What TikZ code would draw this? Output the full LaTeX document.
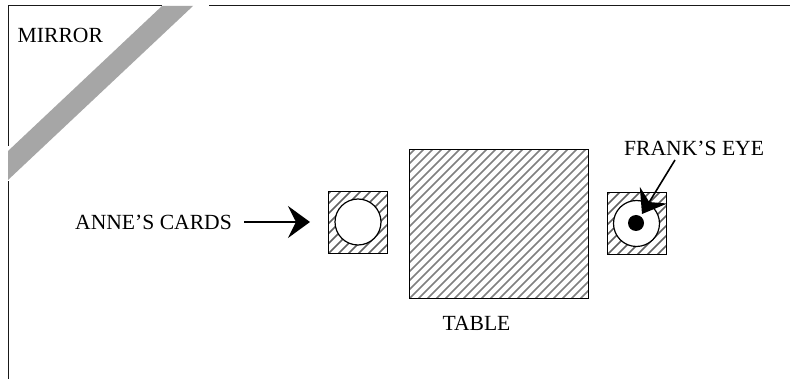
\documentclass[tikz,border=0pt]{standalone}
\usepackage{fontspec}
\setmainfont{Liberation Serif}
\usetikzlibrary{arrows.meta}
\tikzset{
  x=1pt,y=-1pt,
  lbl/.style={inner sep=0pt,font=\fontsize{21.6}{24}\selectfont,text=black},
  frame/.style={draw=black!90,line width=1.3pt},
  boxline/.style={draw=black,line width=1.5pt},
  hatchline/.style={draw=black!50,line width=1.5pt},
  smallhatch/.style={draw=black!62,line width=1.6pt},
  hole/.style={draw=black,fill=white,line width=1.2pt},
  bigarrow/.style={draw=black,line width=1.6pt,-{Stealth[length=22pt,width=32pt,inset=8pt]}}
}
\newcommand{\hatchbox}[6]{%
  \begin{scope}
    \clip (#1,#2) rectangle (#3,#4);
    \foreach \k in {-30,...,30}{
      \draw[#6] ({#1+\k*#5},{#4}) -- ({#1+\k*#5+200},{#4-200});
    }
  \end{scope}
  \draw[boxline] (#1,#2) rectangle (#3,#4);
}
\begin{document}
\begin{tikzpicture}
\useasboundingbox (0,0) rectangle (790,379);
\fill[white] (0,0) rectangle (790,379);
\coordinate (tl) at (8.5,5.5);
\coordinate (tr) at (790,5.5);
\coordinate (bl) at (8.5,379);
\draw[frame] (bl) -- (tl) -- (tr);
\fill[white] (162,3) rectangle (209,8);
\fill[white] (6,146) rectangle (11,181);
\fill[black!35] (162,6) -- (193,6) -- (8,180) -- (8,151) -- cycle;
\node[lbl,anchor=west] (mirror) at (17.5,35.5) {MIRROR};
\hatchbox{409.5}{149.5}{588.5}{298.5}{9}{hatchline}
\hatchbox{328.5}{191.5}{387.5}{253.5}{10}{smallhatch}
\hatchbox{607.5}{192.5}{666.5}{254.5}{10}{smallhatch}
\node[hole,circle,minimum size=46pt,inner sep=0pt] (cards) at (358,222) {};
\node[hole,circle,minimum size=46pt,inner sep=0pt] (eye) at (636.5,223.5) {};
\node[circle,fill=black,minimum size=16pt,inner sep=0pt] (pupil) at (636,223) {};
\node[lbl,anchor=west] (anne) at (75,222) {ANNE’S CARDS};
\node[lbl,anchor=west] (frank) at (624,148) {FRANK’S EYE};
\node[lbl] (table) at (476.5,323) {TABLE};
\coordinate (annestart) at (244,222);
\coordinate (annetip) at (310,222);
\coordinate (frankstart) at (675,160);
\coordinate (franktip) at (642,214);
\draw[bigarrow] (annestart) -- (annetip);
\draw[bigarrow] (frankstart) -- (franktip);
\end{tikzpicture}
\end{document}
